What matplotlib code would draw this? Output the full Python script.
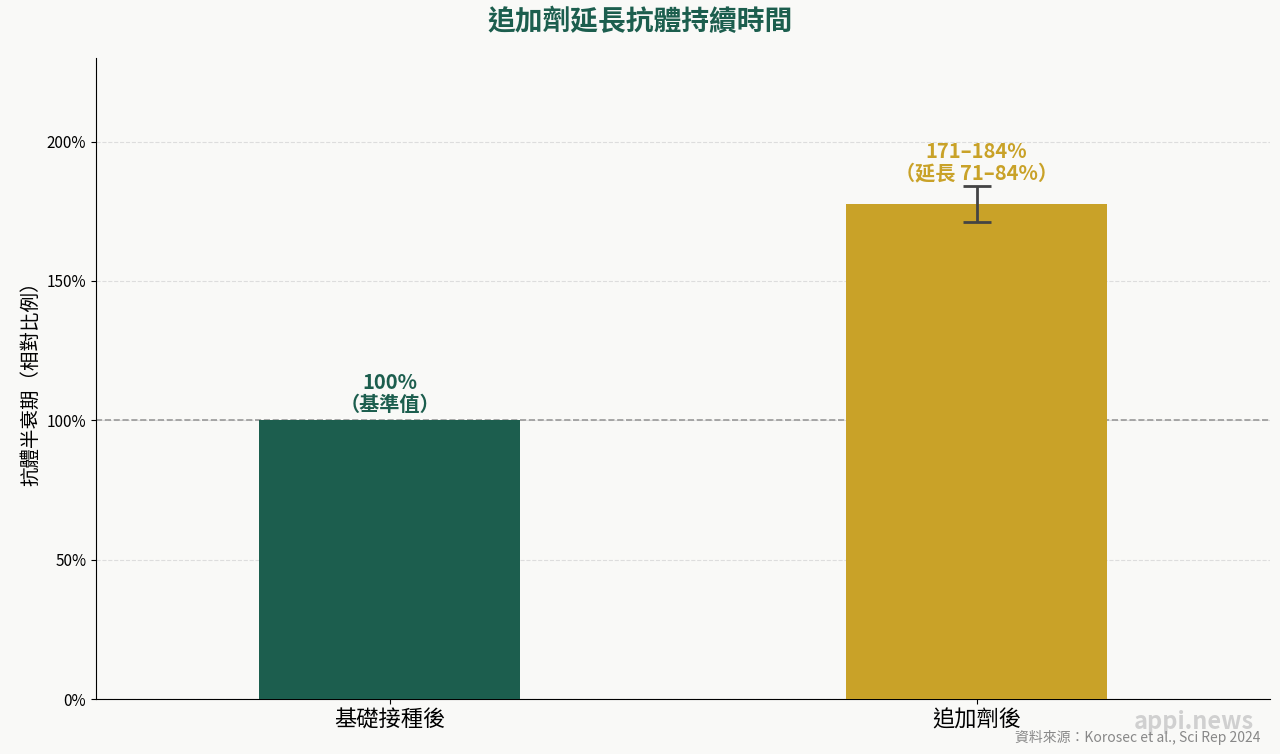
import numpy as np
import matplotlib
matplotlib.use("Agg")
import matplotlib.pyplot as plt

plt.rcParams['font.family'] = ['Noto Sans CJK TC', 'DejaVu Sans']

categories = ["基礎接種後", "追加劑後"]
values = [100, 177.5]
err_low = [0, 6.5]
err_high = [0, 6.5]
labels = ["100%\n（基準值）", "171–184%\n（延長 71–84%）"]
colors = ["#1c5e4e", "#c9a228"]
yticks = [0, 50, 100, 150, 200]

bg = "#f9f9f7"
fig = plt.figure(figsize=(12.8, 7.54), dpi=100, facecolor=bg)
ax = fig.add_axes([96/1280, 1-699/754, 1174/1280, (699-58)/754])
ax.set_facecolor(bg)

x = np.arange(len(categories))
ax.bar(x, values, width=0.445, color=colors, zorder=3)
ax.errorbar(x[1], values[1], yerr=[[err_low[1]], [err_high[1]]], fmt='none',
            ecolor="#444444", elinewidth=2, capsize=10, capthick=2, zorder=4)
ax.axhline(100, color="#999999", linestyle="--", linewidth=1.2, zorder=2)

ax.text(x[0], values[0] + 2, labels[0], ha='center', va='bottom', fontsize=14.5,
        fontweight='bold', color=colors[0], linespacing=1.05)
ax.text(x[1], values[1] + err_high[1] + 1, labels[1], ha='center', va='bottom', fontsize=14.5,
        fontweight='bold', color=colors[1], linespacing=1.05)

ax.set_xlim(-0.5, 1.5)
ax.set_ylim(0, 230)
ax.set_yticks(yticks)
ax.set_yticklabels([f"{v}%" for v in yticks], fontsize=11)
ax.set_xticks(x)
ax.set_xticklabels(categories, fontsize=16)
ax.set_ylabel("抗體半衰期（相對比例）", fontsize=14)
ax.grid(axis='y', linestyle='--', color="#dddddd", linewidth=0.8, zorder=0)
ax.spines['top'].set_visible(False)
ax.spines['right'].set_visible(False)

fig.text(0.5, 1-22/754, "追加劑延長抗體持續時間", ha='center', va='center',
         fontsize=20, fontweight='bold', color="#1c5e4e")
fig.text(1254/1280, 1-722/754, "appi.news", ha='right', va='center', fontsize=17,
         fontweight='bold', color="#cccccc", alpha=0.9)
fig.text(1260/1280, 1-737/754, "資料來源：Korosec et al., Sci Rep 2024", ha='right',
         va='center', fontsize=10, color="#888888")

fig.savefig("out.png", dpi=100, facecolor=bg)
